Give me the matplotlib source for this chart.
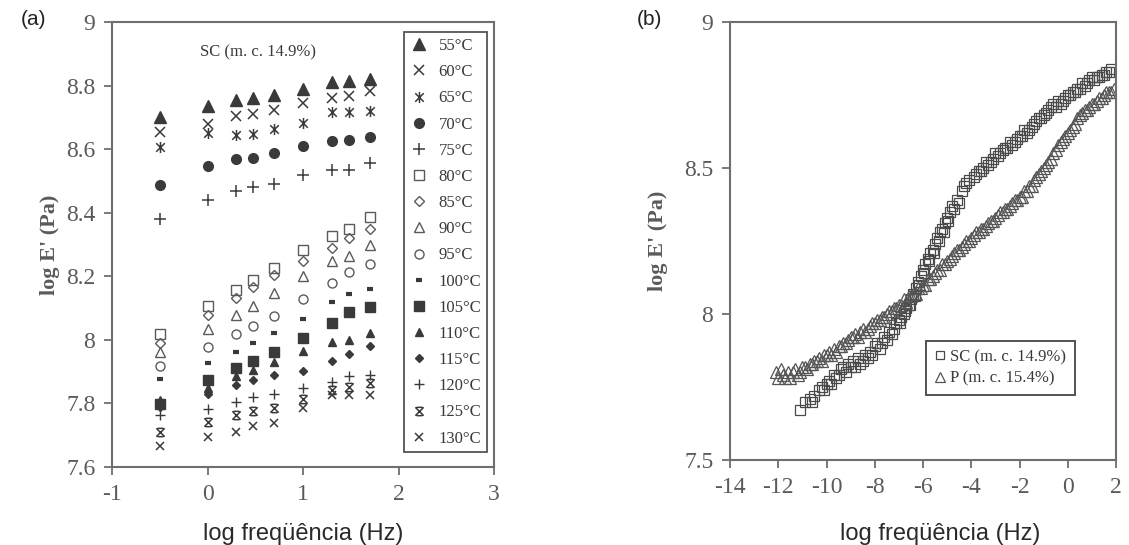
import numpy as np
import matplotlib.pyplot as plt
from matplotlib.path import Path

# ---- painel (a): SC (m. c. 14.9%), log E' vs log frequencia ----
freq_a = [-0.5, 0, 0.3, 0.48, 0.7, 1, 1.3, 1.48, 1.7]
temps = ['55°C', '60°C', '65°C', '70°C', '75°C', '80°C', '85°C', '90°C', '95°C',
         '100°C', '105°C', '110°C', '115°C', '120°C', '125°C', '130°C']

e55 = [8.70, 8.735, 8.755, 8.76, 8.77, 8.79, 8.81, 8.815, 8.82]
e60 = [8.655, 8.678, 8.703, 8.711, 8.724, 8.744, 8.762, 8.768, 8.782]
e65 = [8.608, 8.65, 8.643, 8.648, 8.663, 8.681, 8.718, 8.716, 8.72]
e70 = [8.487, 8.546, 8.568, 8.571, 8.588, 8.61, 8.626, 8.63, 8.639]
e75 = [8.379, 8.441, 8.469, 8.48, 8.491, 8.518, 8.535, 8.533, 8.557]
e80 = [8.018, 8.106, 8.158, 8.188, 8.227, 8.282, 8.328, 8.35, 8.385]
e85 = [7.99, 8.078, 8.133, 8.166, 8.205, 8.249, 8.29, 8.322, 8.35]
e90 = [7.963, 8.034, 8.078, 8.106, 8.147, 8.20, 8.249, 8.265, 8.30]
e95 = [7.919, 7.979, 8.02, 8.043, 8.075, 8.13, 8.18, 8.214, 8.24]
e100 = [7.878, 7.927, 7.963, 7.99, 8.021, 8.067, 8.119, 8.144, 8.161]
e105 = [7.798, 7.873, 7.913, 7.933, 7.963, 8.007, 8.054, 8.087, 8.104]
e110 = [7.81, 7.85, 7.886, 7.905, 7.93, 7.965, 7.993, 8.0, 8.023]
e115 = [7.79, 7.83, 7.858, 7.875, 7.891, 7.902, 7.935, 7.957, 7.981]
e120 = [7.765, 7.781, 7.803, 7.82, 7.831, 7.85, 7.869, 7.886, 7.891]
e125 = [7.71, 7.743, 7.765, 7.776, 7.787, 7.814, 7.842, 7.853, 7.864]
e130 = [7.666, 7.693, 7.71, 7.729, 7.737, 7.787, 7.826, 7.826, 7.826]

# ---- painel (b): curvas mestras SC e P ----
sc_pts = [(-11.1, 7.67), (-10.9, 7.70), (-10.7, 7.71), (-10.6, 7.70), (-10.5, 7.72),
          (-10.3, 7.74), (-10.2, 7.75), (-10.1, 7.74), (-10.0, 7.76), (-9.9, 7.77),
          (-9.8, 7.76), (-9.7, 7.79), (-9.6, 7.78), (-9.5, 7.79), (-9.4, 7.81),
          (-9.3, 7.82), (-9.2, 7.80), (-9.1, 7.83), (-9.0, 7.82), (-8.9, 7.84),
          (-8.8, 7.82), (-8.7, 7.85), (-8.6, 7.83), (-8.5, 7.84), (-8.4, 7.86),
          (-8.3, 7.85), (-8.2, 7.87), (-8.1, 7.86), (-8.0, 7.89), (-7.9, 7.90),
          (-7.8, 7.88), (-7.7, 7.90), (-7.6, 7.92), (-7.5, 7.91), (-7.4, 7.94),
          (-7.3, 7.93), (-7.2, 7.95), (-7.1, 7.97), (-7.0, 7.98), (-6.95, 7.97),
          (-6.9, 7.99), (-6.8, 8.00), (-6.75, 8.01), (-6.7, 8.02), (-6.6, 8.03),
          (-6.55, 8.03), (-6.5, 8.05), (-6.4, 8.07), (-6.35, 8.06), (-6.3, 8.09),
          (-6.2, 8.11), (-6.15, 8.10), (-6.1, 8.13), (-6.0, 8.15), (-5.95, 8.14),
          (-5.9, 8.17), (-5.8, 8.19), (-5.75, 8.18), (-5.7, 8.21), (-5.6, 8.22),
          (-5.55, 8.21), (-5.5, 8.24), (-5.4, 8.26), (-5.35, 8.25), (-5.3, 8.28),
          (-5.2, 8.29), (-5.15, 8.28), (-5.1, 8.31), (-5.0, 8.33), (-4.95, 8.32),
          (-4.9, 8.35), (-4.8, 8.37), (-4.7, 8.36), (-4.6, 8.39), (-4.5, 8.38),
          (-4.4, 8.42), (-4.3, 8.44), (-4.2, 8.45), (-4.1, 8.46), (-3.9, 8.47),
          (-3.8, 8.48), (-3.7, 8.49), (-3.6, 8.49), (-3.5, 8.50), (-3.4, 8.52),
          (-3.3, 8.51), (-3.2, 8.52), (-3.1, 8.53), (-3.0, 8.55), (-2.9, 8.54),
          (-2.8, 8.55), (-2.7, 8.56), (-2.6, 8.57), (-2.5, 8.57), (-2.4, 8.59),
          (-2.3, 8.58), (-2.2, 8.59), (-2.1, 8.60), (-2.0, 8.61), (-1.9, 8.61),
          (-1.8, 8.63), (-1.7, 8.62), (-1.6, 8.63), (-1.5, 8.64), (-1.4, 8.65),
          (-1.3, 8.66), (-1.2, 8.67), (-1.1, 8.67), (-1.0, 8.68), (-0.9, 8.69),
          (-0.8, 8.70), (-0.7, 8.71), (-0.6, 8.72), (-0.5, 8.71), (-0.4, 8.73),
          (-0.3, 8.72), (-0.2, 8.73), (-0.1, 8.74), (0.0, 8.75), (0.1, 8.75),
          (0.2, 8.76), (0.3, 8.76), (0.4, 8.77), (0.5, 8.77), (0.6, 8.79),
          (0.7, 8.78), (0.8, 8.79), (0.9, 8.80), (1.0, 8.81), (1.1, 8.80),
          (1.2, 8.81), (1.3, 8.81), (1.4, 8.82), (1.5, 8.82), (1.6, 8.83),
          (1.7, 8.83), (1.8, 8.84)]

p_pts = [(-12.1, 7.80), (-12.0, 7.78), (-11.9, 7.81), (-11.8, 7.79), (-11.7, 7.78),
         (-11.6, 7.80), (-11.5, 7.78), (-11.4, 7.80), (-11.3, 7.81), (-11.2, 7.79),
         (-11.1, 7.80), (-11.0, 7.82), (-10.9, 7.82), (-10.8, 7.81), (-10.7, 7.83),
         (-10.6, 7.83), (-10.5, 7.84), (-10.4, 7.84), (-10.3, 7.85), (-10.2, 7.84),
         (-10.1, 7.86), (-10.0, 7.86), (-9.9, 7.87), (-9.8, 7.86), (-9.7, 7.88),
         (-9.6, 7.87), (-9.5, 7.89), (-9.4, 7.89), (-9.3, 7.90), (-9.2, 7.90),
         (-9.1, 7.91), (-9.0, 7.92), (-8.9, 7.92), (-8.8, 7.93), (-8.7, 7.92),
         (-8.6, 7.94), (-8.5, 7.95), (-8.4, 7.94), (-8.3, 7.95), (-8.2, 7.96),
         (-8.1, 7.97), (-8.0, 7.97), (-7.9, 7.98), (-7.8, 7.98), (-7.7, 7.99),
         (-7.6, 7.99), (-7.5, 8.00), (-7.4, 8.01), (-7.3, 8.01), (-7.2, 8.02),
         (-7.1, 8.02), (-7.0, 8.03), (-6.9, 8.03), (-6.8, 8.05), (-6.7, 8.04),
         (-6.6, 8.06), (-6.5, 8.06), (-6.4, 8.07), (-6.3, 8.07), (-6.2, 8.09),
         (-6.1, 8.09), (-6.0, 8.10), (-5.9, 8.10), (-5.8, 8.12), (-5.7, 8.12),
         (-5.6, 8.13), (-5.5, 8.14), (-5.4, 8.15), (-5.3, 8.15), (-5.2, 8.17),
         (-5.1, 8.17), (-5.0, 8.18), (-4.9, 8.19), (-4.8, 8.20), (-4.7, 8.21),
         (-4.6, 8.22), (-4.5, 8.22), (-4.4, 8.23), (-4.3, 8.24), (-4.2, 8.25),
         (-4.1, 8.25), (-4.0, 8.26), (-3.9, 8.27), (-3.8, 8.28), (-3.7, 8.28),
         (-3.6, 8.29), (-3.5, 8.29), (-3.4, 8.30), (-3.3, 8.31), (-3.2, 8.32),
         (-3.1, 8.32), (-3.0, 8.33), (-2.9, 8.34), (-2.8, 8.35), (-2.7, 8.35),
         (-2.6, 8.36), (-2.5, 8.36), (-2.4, 8.37), (-2.3, 8.38), (-2.2, 8.39),
         (-2.1, 8.39), (-2.0, 8.40), (-1.9, 8.40), (-1.8, 8.42), (-1.7, 8.42),
         (-1.6, 8.44), (-1.5, 8.44), (-1.4, 8.46), (-1.3, 8.47), (-1.2, 8.48),
         (-1.1, 8.49), (-1.0, 8.50), (-0.9, 8.51), (-0.8, 8.52), (-0.7, 8.53),
         (-0.6, 8.55), (-0.5, 8.56), (-0.4, 8.58), (-0.3, 8.59), (-0.2, 8.60),
         (-0.1, 8.61), (0.0, 8.62), (0.1, 8.63), (0.2, 8.64), (0.3, 8.65),
         (0.4, 8.67), (0.5, 8.68), (0.6, 8.69), (0.7, 8.70), (0.8, 8.70),
         (0.9, 8.71), (1.0, 8.72), (1.1, 8.72), (1.2, 8.73), (1.3, 8.74),
         (1.4, 8.74), (1.5, 8.75), (1.6, 8.76), (1.7, 8.76), (1.8, 8.76), (1.9, 8.77)]

ticks_b = [-14, -12, -10, -8, -6, -4, -2, 0, 2]

plt.rcParams['font.family'] = 'Liberation Serif'

ink = '#3a3a3a'
gris = '#5a5a5a'
eixo = '#6e6e6e'

# marcadores parecidos com os do Excel
estrela = Path([(-1, -1), (1, 1), (-1, 1), (1, -1), (0, -1.3), (0, 1.3)],
               [Path.MOVETO, Path.LINETO, Path.MOVETO, Path.LINETO, Path.MOVETO, Path.LINETO])
ampulheta = Path([(-1, -1), (1, 1), (-1, 1), (1, -1), (-0.7, 1), (0.7, 1), (-0.7, -1), (0.7, -1)],
                 [Path.MOVETO, Path.LINETO, Path.MOVETO, Path.LINETO,
                  Path.MOVETO, Path.LINETO, Path.MOVETO, Path.LINETO])

series_a = [e55, e60, e65, e70, e75, e80, e85, e90, e95, e100, e105, e110, e115, e120, e125, e130]
# (marcador, tamanho, cheio?, espessura)
estilos = [('^', 8, True, 1), ('x', 7, False, 1.1), (estrela, 8, False, 1.1), ('o', 7, True, 1),
           ('+', 8.5, False, 1.1), ('s', 7, False, 1), ('D', 5.5, False, 1), ('^', 7.5, False, 1),
           ('o', 6.5, False, 1), ('_', 5, False, 3), ('s', 7.5, True, 1), ('^', 6, True, 1),
           ('D', 4.5, True, 1), ('+', 6.5, False, 1), (ampulheta, 6, False, 1.1), ('x', 6, False, 1.1)]

fig = plt.figure(figsize=(11.29, 5.45), dpi=100)
ax1 = fig.add_axes([0.0992, 0.1431, 0.3384, 0.8165])
ax2 = fig.add_axes([0.6466, 0.1560, 0.3419, 0.8036])

for vals, lab, (m, ms, cheio, lw) in zip(series_a, temps, estilos):
    cor = ink if cheio or m in ('x', '+', '_') or isinstance(m, Path) else gris
    ax1.plot(freq_a, vals, linestyle='none', marker=m, markersize=ms,
             markerfacecolor=cor if cheio else 'none', markeredgecolor=cor,
             markeredgewidth=lw, label=lab)

ax1.set_xlim(-1, 3)
ax1.set_ylim(7.6, 9)
ax1.set_xticks([-1, 0, 1, 2, 3])
ax1.set_yticks([7.6, 7.8, 8, 8.2, 8.4, 8.6, 8.8, 9])
ax1.set_yticklabels(['7.6', '7.8', '8', '8.2', '8.4', '8.6', '8.8', '9'])
ax1.set_xticklabels(['-1', '0', '1', '2', '3'])
ax1.text(0.53, 8.906, 'SC (m. c. 14.9%)', fontsize=12, color=ink, ha='center', va='center')
leg1 = ax1.legend(loc='upper right', bbox_to_anchor=(0.982, 0.977), fontsize=12,
                  frameon=True, fancybox=False, framealpha=1, edgecolor='#555555',
                  borderpad=0.35, labelspacing=0.61, handlelength=1.0, handletextpad=0.7,
                  borderaxespad=0)
leg1.get_frame().set_linewidth(1.3)
for t in leg1.get_texts():
    t.set_color(ink)

sc_x, sc_y = zip(*sc_pts)
p_x, p_y = zip(*p_pts)
ax2.plot(sc_x, sc_y, linestyle='none', marker='s', markersize=7.5, markerfacecolor='none',
         markeredgecolor='#4a4a4a', markeredgewidth=0.9, label='SC (m. c. 14.9%)')
ax2.plot(p_x, p_y, linestyle='none', marker='^', markersize=8, markerfacecolor='none',
         markeredgecolor='#555555', markeredgewidth=0.9, label='P (m. c. 15.4%)')
ax2.set_xlim(-14, 2)
ax2.set_ylim(7.5, 9)
ax2.set_xticks(ticks_b)
ax2.set_xticklabels([str(t) for t in ticks_b])
ax2.set_yticks([7.5, 8, 8.5, 9])
ax2.set_yticklabels(['7.5', '8', '8.5', '9'])
leg2 = ax2.legend(loc='lower left', bbox_to_anchor=(0.508, 0.148), fontsize=12,
                  frameon=True, fancybox=False, framealpha=1, edgecolor='#444444',
                  borderpad=0.5, labelspacing=0.35, handlelength=0.7, handletextpad=0.25,
                  borderaxespad=0, markerscale=0.85)
leg2.get_frame().set_linewidth(1.3)
for t in leg2.get_texts():
    t.set_color(ink)

for ax, lx, ly in [(ax1, 0.5, -0.125), (ax2, 0.544, -0.143)]:
    for s in ax.spines.values():
        s.set_color(eixo)
        s.set_linewidth(1.5)
    ax.tick_params(direction='out', length=6, width=1.3, color=eixo,
                   labelsize=17, labelcolor=gris, top=False, right=False, pad=6)
    ax.set_ylabel("log E' (Pa)", fontsize=16, fontweight='bold', color=gris)
    ax.set_xlabel('log freqüência (Hz)', fontsize=17, family='Liberation Sans', color='#2a2a2a')
    ax.xaxis.set_label_coords(lx, ly)

ax1.yaxis.set_label_coords(-0.136, 0.5)
ax2.yaxis.set_label_coords(-0.16, 0.5)

fig.text(0.018, 0.965, '(a)', fontsize=15, family='Liberation Sans', color='#222222', va='center')
fig.text(0.564, 0.965, '(b)', fontsize=15, family='Liberation Sans', color='#222222', va='center')

fig.savefig('out.png', dpi=100)
